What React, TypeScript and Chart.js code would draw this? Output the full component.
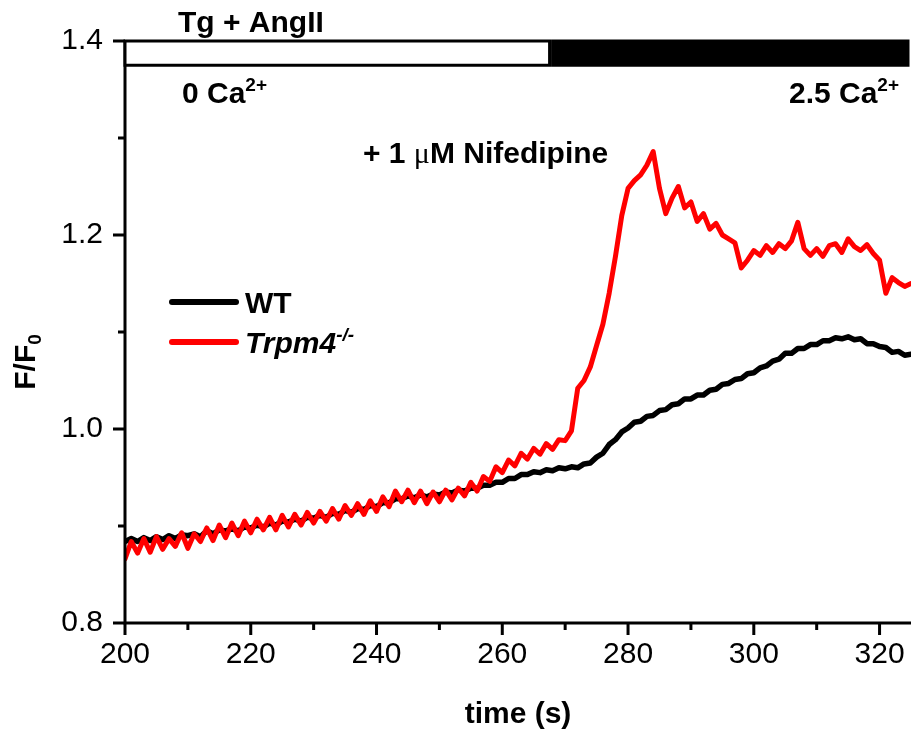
import React, { useEffect, useRef } from 'react';
import { Chart, registerables } from 'chart.js';

Chart.register(...registerables);

const timeSec = [
  200, 201, 202, 203, 204, 205, 206, 207, 208, 209,
  210, 211, 212, 213, 214, 215, 216, 217, 218, 219,
  220, 221, 222, 223, 224, 225, 226, 227, 228, 229,
  230, 231, 232, 233, 234, 235, 236, 237, 238, 239,
  240, 241, 242, 243, 244, 245, 246, 247, 248, 249,
  250, 251, 252, 253, 254, 255, 256, 257, 258, 259,
  260, 261, 262, 263, 264, 265, 266, 267, 268, 269,
  270, 271, 272, 273, 274, 275, 276, 277, 278, 279,
  280, 281, 282, 283, 284, 285, 286, 287, 288, 289,
  290, 291, 292, 293, 294, 295, 296, 297, 298, 299,
  300, 301, 302, 303, 304, 305, 306, 307, 308, 309,
  310, 311, 312, 313, 314, 315, 316, 317, 318, 319,
  320, 321, 322, 323, 324, 325,
];

const wtValues = [
  0.884, 0.887, 0.884, 0.888, 0.885, 0.889, 0.886, 0.890, 0.887, 0.891,
  0.890, 0.892, 0.889, 0.895, 0.892, 0.896, 0.895, 0.897, 0.895, 0.899,
  0.898, 0.901, 0.899, 0.903, 0.901, 0.905, 0.904, 0.907, 0.905, 0.909,
  0.908, 0.911, 0.909, 0.913, 0.912, 0.916, 0.914, 0.918, 0.917, 0.921,
  0.920, 0.924, 0.924, 0.928, 0.928, 0.931, 0.929, 0.932, 0.930, 0.933,
  0.932, 0.935, 0.934, 0.937, 0.936, 0.939, 0.939, 0.942, 0.942, 0.945,
  0.945, 0.949, 0.949, 0.953, 0.953, 0.956, 0.955, 0.958, 0.957, 0.960,
  0.959, 0.961, 0.960, 0.964, 0.965, 0.971, 0.975, 0.984, 0.989, 0.997,
  1.001, 1.007, 1.008, 1.013, 1.014, 1.019, 1.020, 1.025, 1.026, 1.031,
  1.031, 1.035, 1.035, 1.040, 1.041, 1.046, 1.047, 1.051, 1.052, 1.057,
  1.058, 1.063, 1.065, 1.070, 1.072, 1.078, 1.078, 1.083, 1.083, 1.087,
  1.087, 1.091, 1.091, 1.094, 1.093, 1.095, 1.092, 1.093, 1.088, 1.088,
  1.085, 1.084, 1.079, 1.080, 1.076, 1.077,
];

const trpm4Values = [
  0.866, 0.884, 0.872, 0.887, 0.873, 0.889, 0.876, 0.887, 0.879, 0.893,
  0.877, 0.892, 0.884, 0.898, 0.885, 0.901, 0.888, 0.903, 0.890, 0.905,
  0.893, 0.907, 0.896, 0.909, 0.896, 0.911, 0.899, 0.912, 0.901, 0.914,
  0.903, 0.915, 0.905, 0.918, 0.907, 0.921, 0.911, 0.923, 0.912, 0.926,
  0.915, 0.930, 0.920, 0.936, 0.925, 0.937, 0.924, 0.936, 0.923, 0.935,
  0.925, 0.937, 0.927, 0.939, 0.931, 0.945, 0.936, 0.951, 0.946, 0.961,
  0.955, 0.968, 0.962, 0.975, 0.969, 0.980, 0.974, 0.985, 0.979, 0.989,
  0.988, 0.998, 1.042, 1.050, 1.064, 1.086, 1.108, 1.140, 1.178, 1.220,
  1.248, 1.256, 1.262, 1.272, 1.286, 1.248, 1.222, 1.238, 1.250, 1.228,
  1.234, 1.214, 1.222, 1.206, 1.212, 1.200, 1.196, 1.192, 1.166, 1.174,
  1.184, 1.179, 1.189, 1.182, 1.191, 1.186, 1.194, 1.213, 1.186, 1.179,
  1.186, 1.178, 1.189, 1.191, 1.182, 1.196, 1.188, 1.184, 1.190, 1.181,
  1.174, 1.140, 1.156, 1.151, 1.147, 1.150,
];

const seriesLabels = ['WT', 'Trpm4'];
const seriesSuperscripts = ['', '-/-'];

const xMin = 200;
const xMax = 325;
const xTickStep = 10;
const xLabelStep = 20;
const yMin = 0.8;
const yMax = 1.4;
const yTickStep = 0.1;

// stimulation bar segments (time, s) and their F/F0 span
const stimStart = [200, 268];
const stimEnd = [268, 325];
const stimTop = 1.4;
const stimBottom = 1.375;

const FONT = "'Liberation Sans', Arial, Helvetica, sans-serif";

type Part = { text: string; font: string; dy?: number };

function drawRich(ctx: CanvasRenderingContext2D, parts: Part[], x: number, y: number, align: 'left' | 'right' | 'center') {
  let total = 0;
  const widths = parts.map((p) => {
    ctx.font = p.font;
    const w = ctx.measureText(p.text).width;
    total += w;
    return w;
  });
  let cx = x;
  if (align === 'right') cx = x - total;
  if (align === 'center') cx = x - total / 2;
  ctx.textAlign = 'left';
  ctx.textBaseline = 'alphabetic';
  parts.forEach((p, i) => {
    ctx.font = p.font;
    ctx.fillText(p.text, cx, y + (p.dy || 0));
    cx += widths[i];
  });
}

const overlayPlugin = {
  id: 'overlay',
  afterDraw(chart: any) {
    const ctx: CanvasRenderingContext2D = chart.ctx;
    const xs = chart.scales.x;
    const ys = chart.scales.y;
    const area = chart.chartArea;
    ctx.save();
    ctx.strokeStyle = '#000';
    ctx.fillStyle = '#000';
    ctx.lineWidth = 3;
    ctx.lineCap = 'butt';

    // axes lines
    ctx.beginPath();
    ctx.moveTo(area.left, area.top - 1);
    ctx.lineTo(area.left, area.bottom + 1.5);
    ctx.moveTo(area.left - 1.5, area.bottom);
    ctx.lineTo(area.right, area.bottom);
    ctx.stroke();

    // x ticks
    ctx.beginPath();
    xs.ticks.forEach((t: any) => {
      const px = xs.getPixelForValue(t.value);
      const major = Math.round(t.value) % xLabelStep === 0;
      ctx.moveTo(px, area.bottom);
      ctx.lineTo(px, area.bottom + (major ? 12 : 7));
    });
    // y ticks
    ys.ticks.forEach((t: any) => {
      const py = ys.getPixelForValue(t.value);
      const major = Math.round(t.value * 10) % 2 === 0;
      ctx.moveTo(area.left, py);
      ctx.lineTo(area.left - (major ? 12 : 7), py);
    });
    ctx.stroke();

    // stimulation bars
    const yT = ys.getPixelForValue(stimTop);
    const yB = ys.getPixelForValue(stimBottom);
    stimStart.forEach((s, i) => {
      const x0 = xs.getPixelForValue(s);
      const x1 = xs.getPixelForValue(stimEnd[i]) - 3;
      ctx.fillStyle = i === 0 ? '#ffffff' : '#000000';
      ctx.fillRect(x0, yT, x1 - x0, yB - yT);
      ctx.strokeRect(x0, yT, x1 - x0, yB - yT);
    });
    ctx.fillStyle = '#000';

    const bold = `bold 30px ${FONT}`;
    const sup = `bold 19px ${FONT}`;
    drawRich(ctx, [{ text: 'Tg + AngII', font: bold }], 178, 32, 'left');
    drawRich(ctx, [{ text: '0 Ca', font: bold }, { text: '2+', font: sup, dy: -12 }], 182, 103, 'left');
    drawRich(ctx, [{ text: '2.5 Ca', font: bold }, { text: '2+', font: sup, dy: -12 }], 899, 103, 'right');
    drawRich(
      ctx,
      [
        { text: '+ 1 ', font: bold },
        { text: 'μ', font: `30px 'Liberation Serif', serif` },
        { text: 'M Nifedipine', font: bold },
      ],
      363,
      163,
      'left'
    );

    // legend
    const legendColors = ['#000000', '#ff0000'];
    const legendY = [302, 342];
    ctx.lineCap = 'round';
    ctx.lineWidth = 6;
    seriesLabels.forEach((lab, i) => {
      ctx.strokeStyle = legendColors[i];
      ctx.beginPath();
      ctx.moveTo(172, legendY[i]);
      ctx.lineTo(236, legendY[i]);
      ctx.stroke();
      const f = i === 0 ? bold : `italic bold 30px ${FONT}`;
      const parts: Part[] = [{ text: lab, font: f }];
      if (seriesSuperscripts[i]) parts.push({ text: seriesSuperscripts[i], font: `italic bold 19px ${FONT}`, dy: -12 });
      drawRich(ctx, parts, 245, legendY[i] + 11, 'left');
    });

    // y title
    ctx.save();
    ctx.translate(35, 362);
    ctx.rotate(-Math.PI / 2);
    const parts: Part[] = [
      { text: 'F/F', font: bold },
      { text: '0', font: `bold 19px ${FONT}`, dy: 6 },
    ];
    drawRich(ctx, parts, 0, 0, 'center');
    ctx.restore();

    // x title
    drawRich(ctx, [{ text: 'time (s)', font: bold }], (area.left + area.right) / 2, 723, 'center');

    ctx.restore();
  },
};

export default function App() {
  const ref = useRef<HTMLCanvasElement | null>(null);
  useEffect(() => {
    if (!ref.current) return;
    const chart = new Chart(ref.current, {
      type: 'line',
      data: {
        datasets: [
          {
            label: seriesLabels[1],
            data: timeSec.map((t, i) => ({ x: t, y: trpm4Values[i] })),
            borderColor: '#ff0000',
            borderWidth: 5,
            pointRadius: 0,
            tension: 0,
            borderJoinStyle: 'round',
            borderCapStyle: 'round',
            order: 0,
          },
          {
            label: seriesLabels[0],
            data: timeSec.map((t, i) => ({ x: t, y: wtValues[i] })),
            borderColor: '#000000',
            borderWidth: 5.5,
            pointRadius: 0,
            tension: 0,
            borderJoinStyle: 'round',
            borderCapStyle: 'round',
            order: 1,
          },
        ],
      },
      options: {
        animation: false,
        responsive: false,
        maintainAspectRatio: false,
        layout: { padding: { left: 0, top: 41, right: 2, bottom: 0 } },
        plugins: { legend: { display: false }, tooltip: { enabled: false } },
        scales: {
          x: {
            type: 'linear',
            min: xMin,
            max: xMax,
            grid: { display: false, drawTicks: false, tickLength: 0 },
            border: { display: false },
            ticks: {
              stepSize: xTickStep,
              includeBounds: false,
              autoSkip: false,
              maxRotation: 0,
              padding: 14,
              color: '#000',
              font: { family: FONT, size: 30 },
              callback: (v: any) => (Math.round(v) % xLabelStep === 0 ? String(Math.round(v)) : ''),
            },
            afterFit: (s: any) => {
              s.height = 108;
              s.paddingLeft = 0;
              s.paddingRight = 0;
            },
          },
          y: {
            type: 'linear',
            min: yMin,
            max: yMax,
            grid: { display: false, drawTicks: false, tickLength: 0 },
            border: { display: false },
            ticks: {
              stepSize: yTickStep,
              autoSkip: false,
              padding: 22,
              color: '#000',
              font: { family: FONT, size: 30 },
              callback: (v: any) => (Math.round(v * 10) % 2 === 0 ? Number(v).toFixed(1) : ''),
            },
            afterFit: (s: any) => {
              s.width = 125;
              s.paddingTop = 0;
              s.paddingBottom = 0;
            },
          },
        },
      },
      plugins: [overlayPlugin],
    } as any);
    return () => chart.destroy();
  }, []);
  return (
    <div style={{ position: 'absolute', left: 0, top: 0, width: 913, height: 731, background: '#fff' }}>
      <canvas ref={ref} width={913} height={731} style={{ width: 913, height: 731 }} />
    </div>
  );
}
